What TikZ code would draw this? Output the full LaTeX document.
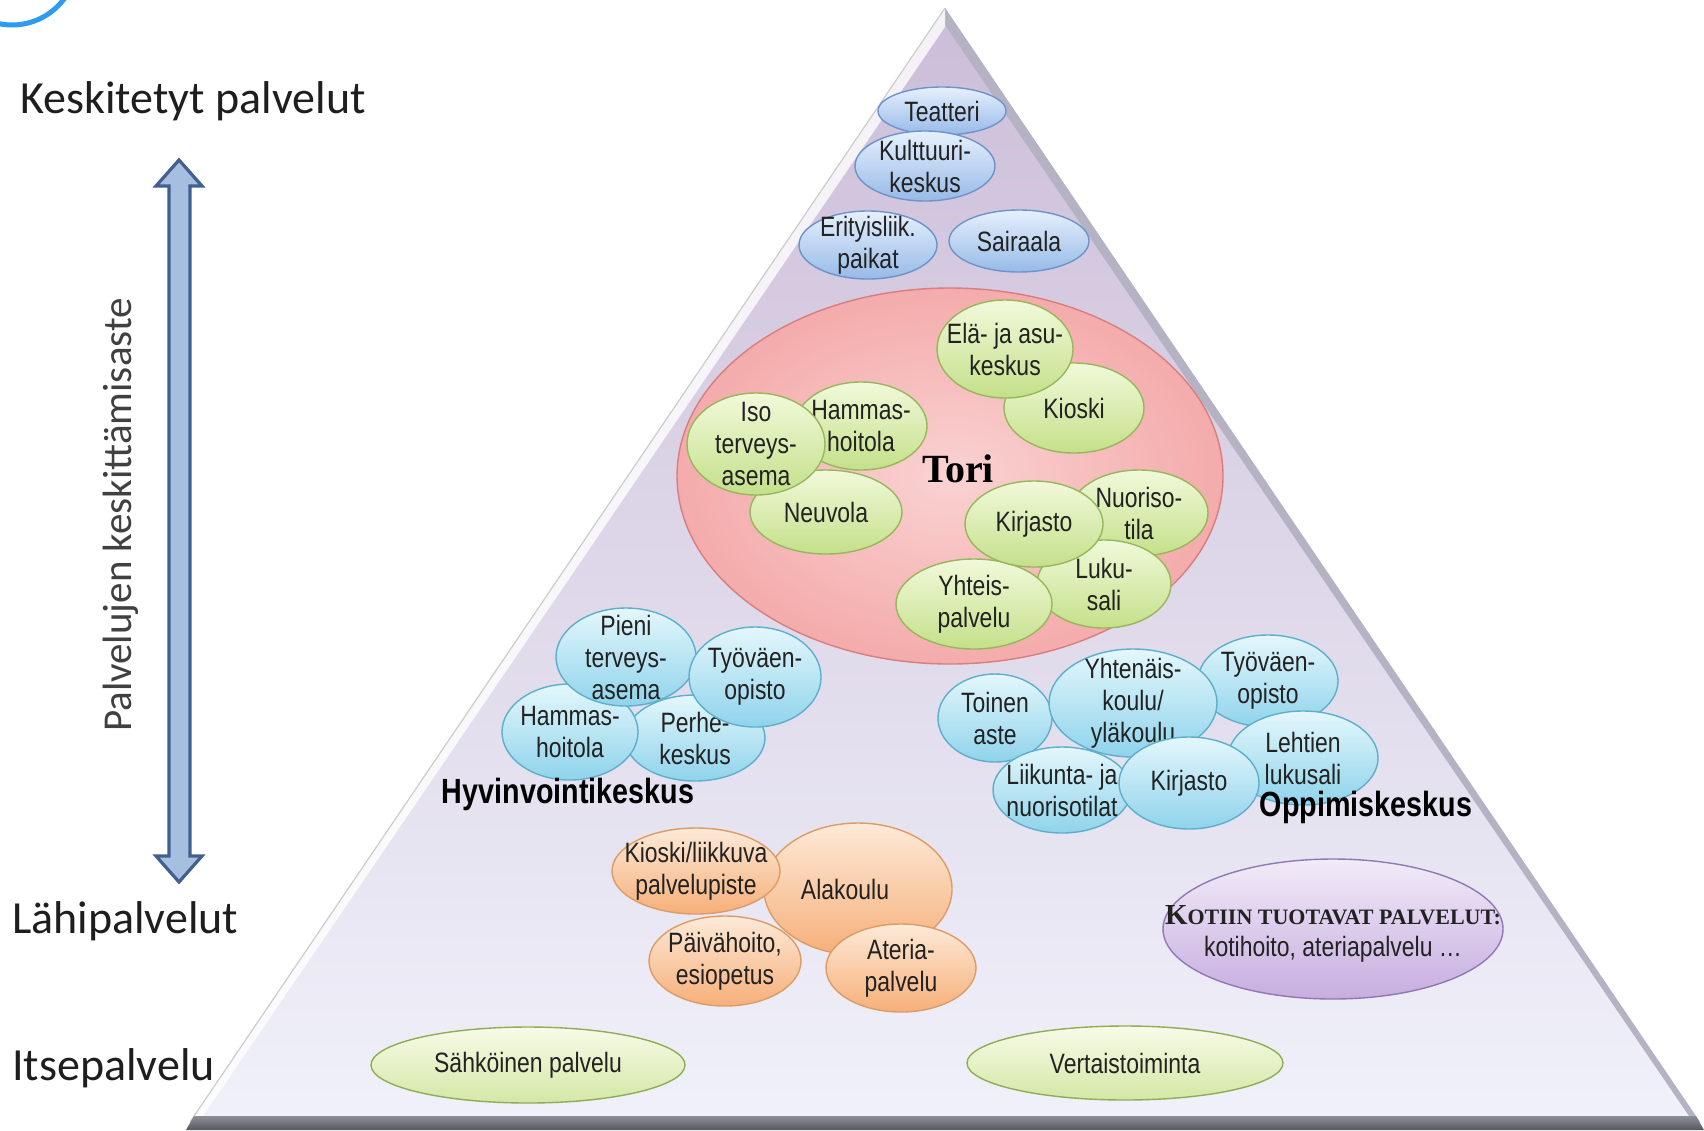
\documentclass[tikz,border=0pt]{standalone}
\usepackage{fontspec}
\setmainfont{Liberation Sans}
\newfontfamily\narfont[FakeStretch=0.82]{Liberation Sans}
\newfontfamily\calibfont{Carlito}
\newfontfamily\timesfont{Liberation Serif}
\usetikzlibrary{shapes.geometric}

\definecolor{txt}{HTML}{222222}
\definecolor{labtxt}{HTML}{1E1E1E}
\definecolor{arcblue}{HTML}{2E9BF2}
\definecolor{pyrT}{HTML}{CCBDD8}
\definecolor{pyrM}{HTML}{D3CEE8}
\definecolor{pyrB}{HTML}{F0F1FA}
\definecolor{bevR}{HTML}{B5B2C4}
\definecolor{baseT}{HTML}{8C8F96}
\definecolor{baseB}{HTML}{55585E}
\definecolor{arrF}{HTML}{A6BFE1}
\definecolor{arrD}{HTML}{41608F}
\definecolor{blT}{HTML}{E6F0FC}
\definecolor{blB}{HTML}{97BAE8}
\definecolor{blD}{HTML}{6D93C9}
\definecolor{grT}{HTML}{F1F9DA}
\definecolor{grB}{HTML}{C4E08A}
\definecolor{grD}{HTML}{97B75A}
\definecolor{cyT}{HTML}{E4F7FC}
\definecolor{cyB}{HTML}{8FD3EB}
\definecolor{cyD}{HTML}{5DAFCB}
\definecolor{ogT}{HTML}{FDEAD8}
\definecolor{ogB}{HTML}{F6AF79}
\definecolor{ogD}{HTML}{DC9C66}
\definecolor{puT}{HTML}{F2EBF8}
\definecolor{puB}{HTML}{C6ADDF}
\definecolor{puD}{HTML}{8E79B5}
\definecolor{lgT}{HTML}{F7FBE8}
\definecolor{lgB}{HTML}{D4E7A6}
\definecolor{lgD}{HTML}{8EAD55}
\definecolor{pkI}{HTML}{FAD2D2}
\definecolor{pkO}{HTML}{F4ABAB}
\definecolor{pkD}{HTML}{D77E7E}

\newcommand\bub[8][]{%
  \node[#2, minimum width={2*#6pt}, minimum height={2*#7pt}] (#3) at (#4,#5) {};
  \node[btxt,#1] (#3t) at (#3.center) {#8};
}

\begin{document}
\begin{tikzpicture}[x=1pt,y=-1pt,
  bub/.style={ellipse, inner sep=0pt, line width=1.4pt},
  bubBlue/.style={bub, draw=blD, top color=blT, bottom color=blB},
  bubGreen/.style={bub, draw=grD, top color=grT, bottom color=grB},
  bubCyan/.style={bub, draw=cyD, top color=cyT, bottom color=cyB},
  bubOrange/.style={bub, draw=ogD, top color=ogT, bottom color=ogB},
  bubPurple/.style={bub, draw=puD, top color=puT, bottom color=puB},
  bubLime/.style={bub, draw=lgD, top color=lgT, bottom color=lgB},
  btxt/.style={align=center, inner sep=0pt, text=txt, font=\narfont\fontsize{28}{32}\selectfont},
  lab/.style={inner sep=0pt, text=labtxt, font=\calibfont\fontsize{46}{52}\selectfont},
  vlab/.style={inner sep=0pt, text=labtxt!85, font=\calibfont\fontsize{41}{46}\selectfont},
  grouplab/.style={inner sep=0pt, text=black, font=\narfont\bfseries\fontsize{35}{40}\selectfont},
]
\useasboundingbox (0,0) rectangle (1704,1130);
\fill[white] (0,0) rectangle (1704,1130);

% partial logo arc
\begin{scope}
  \clip (0,0) rectangle (1704,1130);
  \draw[arcblue, line width=5pt] (12,-40) circle[radius=65pt];
\end{scope}

% pyramid
\coordinate (apex) at (945,8);
\coordinate (bl) at (190,1122);
\coordinate (br) at (1700,1122);
\shade[top color=pyrT, middle color=pyrM, bottom color=pyrB] (apex) -- (bl) -- (br) -- cycle;
\fill[bevR] (apex) -- (br) -- (1689,1116) -- (945,25) -- cycle;
\fill[white, opacity=0.8] (apex) -- (bl) -- (203,1116) -- (945,27) -- cycle;
\draw[gray!40, line width=1.2pt] (apex) -- (bl);
\shade[top color=baseT, bottom color=baseB] (194,1116) -- (1696,1116) -- (1704,1130) -- (186,1130) -- cycle;

% double arrow
\filldraw[fill=arrF, draw=arrD, line width=3.2pt, line join=miter]
  (179,160) -- (202,186) -- (190,186) -- (190,856) -- (202,856) -- (179,882)
  -- (156,856) -- (169,856) -- (169,186) -- (156,186) -- cycle;

% left labels
\node[lab, anchor=base west] (kesk) at (20,113) {Keskitetyt palvelut};
\node[lab, anchor=base west] (lahi) at (12,933) {Lähipalvelut};
\node[lab, anchor=base west] (itse) at (12,1080) {Itsepalvelu};
\node[vlab, rotate=90] (pk) at (121,515) {Palvelujen keskittämisaste};

% top blue group
\bub{bubBlue}{teat}{942}{111}{64}{24}{Teatteri}
\bub{bubBlue}{kult}{925}{166}{70}{35}{Kulttuuri-\\keskus}
\bub{bubBlue}{erit}{868}{245}{69}{34}{Erityisliik.\\paikat}
\bub{bubBlue}{sair}{1019}{241}{70}{31}{Sairaala}

% Tori
\node[ellipse, inner sep=0pt, line width=1.4pt, draw=pkD, inner color=pkI, outer color=pkO,
      minimum width=546pt, minimum height=376pt] (tori) at (950,476) {};
\node[inner sep=0pt, font=\timesfont\bfseries\fontsize{40}{44}\selectfont] (toritxt) at (958,469) {Tori};
\bub{bubGreen}{neuv}{826}{512}{76}{42}{Neuvola}
\bub{bubGreen}{hamm}{861}{426}{66}{44}{Hammas-\\hoitola}
\bub{bubGreen}{iso}{756}{444}{69}{51}{Iso\\terveys-\\asema}
\bub{bubGreen}{kios}{1074}{408}{70}{45}{Kioski}
\bub{bubGreen}{ela}{1005}{349}{68}{49}{Elä- ja asu-\\keskus}
\bub{bubGreen}{nuor}{1139}{513}{69}{43}{Nuoriso-\\tila}
\bub{bubGreen}{luku}{1104}{584}{67}{44}{Luku-\\sali}
\bub{bubGreen}{yhtp}{974}{604}{78}{45}{Yhteis-\\palvelu}
\bub{bubGreen}{kirt}{1034}{524}{69}{43}{Kirjasto}

% Hyvinvointikeskus
\bub{bubCyan}{perh}{695}{738}{70}{43}{Perhe-\\keskus}
\bub{bubCyan}{hamh}{570}{732}{68}{48}{Hammas-\\hoitola}
\bub{bubCyan}{pien}{626}{657}{70}{49}{Pieni\\terveys-\\asema}
\bub{bubCyan}{tyoh}{755}{677}{66}{50}{Työväen-\\opisto}
\node[grouplab] (hyv) at (568,794) {Hyvinvointikeskus};

% Oppimiskeskus
\bub{bubCyan}{tyoo}{1268}{681}{70}{46}{Työväen-\\opisto}
\bub{bubCyan}{toin}{995}{718}{57}{44}{Toinen\\aste}
\bub{bubCyan}{yhte}{1133}{703}{84}{54}{Yhtenäis-\\koulu/\\yläkoulu}
\bub{bubCyan}{leht}{1303}{758}{75}{47}{Lehtien\\lukusali}
\bub{bubCyan}{liik}{1062}{790}{69}{43}{Liikunta- ja\\nuorisotilat}
\bub{bubCyan}{kiro}{1189}{783}{70}{46}{Kirjasto}
\node[grouplab] (opp) at (1366,807) {Oppimiskeskus};

% orange group
\bub[xshift=-13pt]{bubOrange}{alak}{858}{889}{94}{66}{Alakoulu}
\bub{bubOrange}{paiv}{725}{961}{76}{45}{Päivähoito,\\esiopetus}
\bub{bubOrange}{kiol}{696}{871}{84}{43}{Kioski/liikkuva\\palvelupiste}
\bub{bubOrange}{ater}{901}{968}{75}{44}{Ateria-\\palvelu}

% home services
\bub[yshift=-5pt]{bubPurple}{koti}{1333}{929}{170}{70}{{\timesfont\bfseries\fontsize{29}{34}\selectfont K\fontsize{22}{34}\selectfont OTIIN TUOTAVAT PALVELUT:}\\kotihoito, ateriapalvelu …}

% self service
\bub{bubLime}{sahk}{528}{1065}{157}{38}{Sähköinen palvelu}
\bub{bubLime}{vert}{1125}{1063}{158}{37}{Vertaistoiminta}
\end{tikzpicture}
\end{document}
